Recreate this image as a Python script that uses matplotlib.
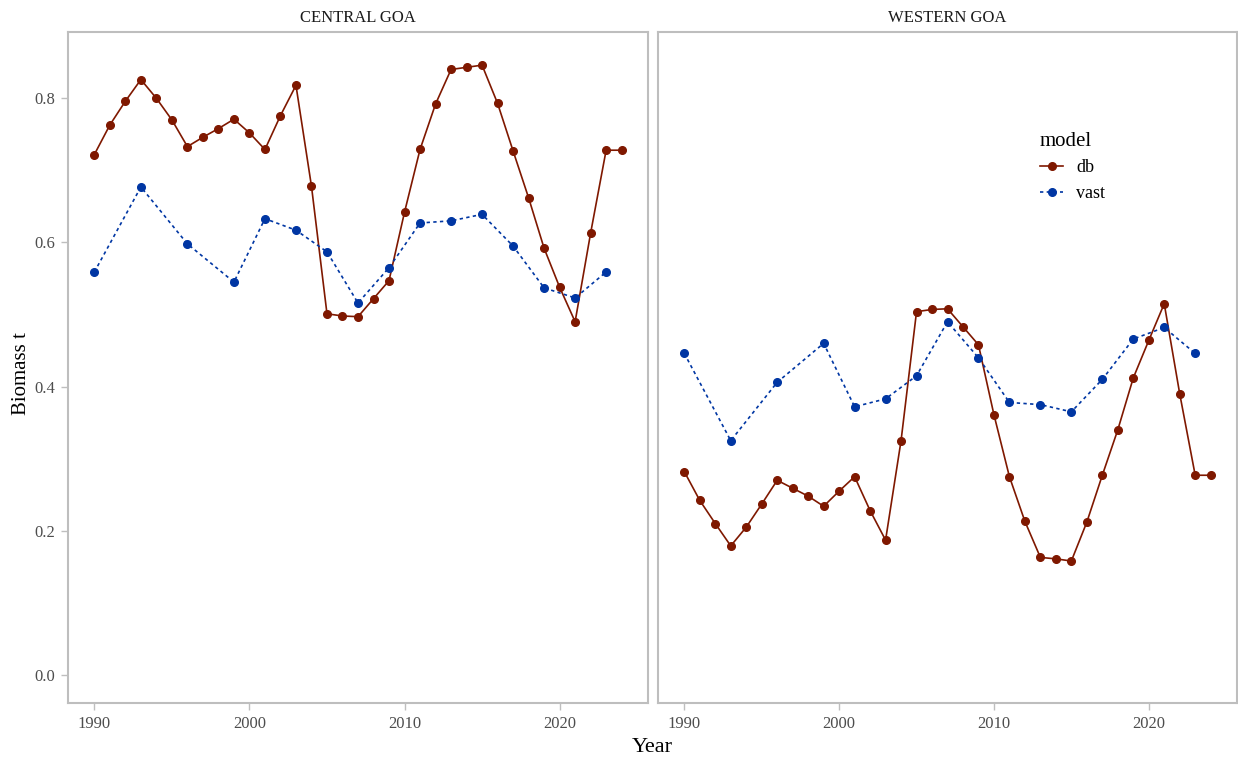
import matplotlib
matplotlib.use("Agg")
import matplotlib.pyplot as plt
from matplotlib.lines import Line2D

plt.rcParams['font.family'] = ['Liberation Serif', 'DejaVu Serif']

years_db = list(range(1990, 2025))
central_db = [0.722, 0.763, 0.796, 0.826, 0.800, 0.770, 0.733, 0.746, 0.758, 0.771,
              0.752, 0.729, 0.776, 0.818, 0.678, 0.501, 0.498, 0.497, 0.522, 0.547,
              0.642, 0.729, 0.792, 0.840, 0.843, 0.846, 0.793, 0.727, 0.662, 0.592,
              0.538, 0.490, 0.613, 0.728, 0.728]
western_db = [0.282, 0.242, 0.210, 0.179, 0.205, 0.237, 0.270, 0.259, 0.248, 0.234,
              0.255, 0.275, 0.228, 0.187, 0.325, 0.504, 0.507, 0.508, 0.483, 0.458,
              0.361, 0.275, 0.213, 0.163, 0.161, 0.158, 0.212, 0.277, 0.340, 0.412,
              0.464, 0.515, 0.390, 0.277, 0.277]

years_vast = [1990, 1993, 1996, 1999, 2001, 2003, 2005, 2007, 2009, 2011, 2013, 2015,
              2017, 2019, 2021, 2023]
central_vast = [0.559, 0.677, 0.598, 0.545, 0.633, 0.617, 0.587, 0.516, 0.565, 0.627,
                0.630, 0.639, 0.595, 0.537, 0.523, 0.559]
western_vast = [0.446, 0.325, 0.406, 0.460, 0.372, 0.383, 0.415, 0.490, 0.440, 0.378,
                0.375, 0.365, 0.410, 0.466, 0.482, 0.446]

panels = ["CENTRAL GOA", "WESTERN GOA"]
x_ticks = [1990, 2000, 2010, 2020]
y_ticks = [0.0, 0.2, 0.4, 0.6, 0.8]

db_color = "#7F1800"
vast_color = "#0036A3"
frame_color = "#BEBEBE"
text_color = "#4D4D4D"

W, H = 1238, 761
fig = plt.figure(figsize=(W / 100, H / 100), dpi=100)

def box(x0, y0, x1, y1):
    return [x0 / W, 1 - y1 / H, (x1 - x0) / W, (y1 - y0) / H]

ax1 = fig.add_axes(box(68, 32, 648, 703))
ax2 = fig.add_axes(box(658, 32, 1237, 703))

ms = 5.5
data = [(central_db, central_vast), (western_db, western_vast)]
for ax, title, (dbv, vav) in zip([ax1, ax2], panels, data):
    ax.plot(years_db, dbv, color=db_color, lw=1.2, marker='o', ms=ms, label='db')
    ax.plot(years_vast, vav, color=vast_color, lw=1.2, ls=(0, (2, 2)), marker='o',
            ms=ms, label='vast')
    ax.set_xlim(1988.3, 2025.7)
    ax.set_ylim(-0.039, 0.892)
    ax.set_xticks(x_ticks)
    ax.set_yticks(y_ticks)
    ax.set_yticklabels([f"{v:.1f}" for v in y_ticks])
    for s in ax.spines.values():
        s.set_color(frame_color)
        s.set_linewidth(1.5)
    ax.tick_params(colors=frame_color, length=5, width=1.0, labelsize=12,
                   labelcolor=text_color, pad=4)
    ax.set_title(title, fontsize=12, color='#1A1A1A', pad=7)

ax2.tick_params(axis='y', left=False, labelleft=False)

fig.text(21 / W, 1 - 374 / H, "Biomass t", rotation=90, ha='center', va='center',
         fontsize=15, color='black')
fig.text(652 / W, 1 - 747 / H, "Year", ha='center', va='center', fontsize=16,
         color='black')

handles = [Line2D([0], [0], color=db_color, lw=1.2, marker='o', ms=ms),
           Line2D([0], [0], color=vast_color, lw=1.2, ls=(0, (2, 2)), marker='o', ms=ms)]
leg = fig.legend(handles, ['db', 'vast'], title='model', loc='upper left',
                 bbox_to_anchor=(1040 / W, 1 - 132 / H),
                 frameon=False, fontsize=13, title_fontsize=15, handlelength=1.3,
                 handletextpad=0.7, labelspacing=0.47, borderpad=0,
                 borderaxespad=0, alignment='left')

fig.savefig("out.png", dpi=100)
